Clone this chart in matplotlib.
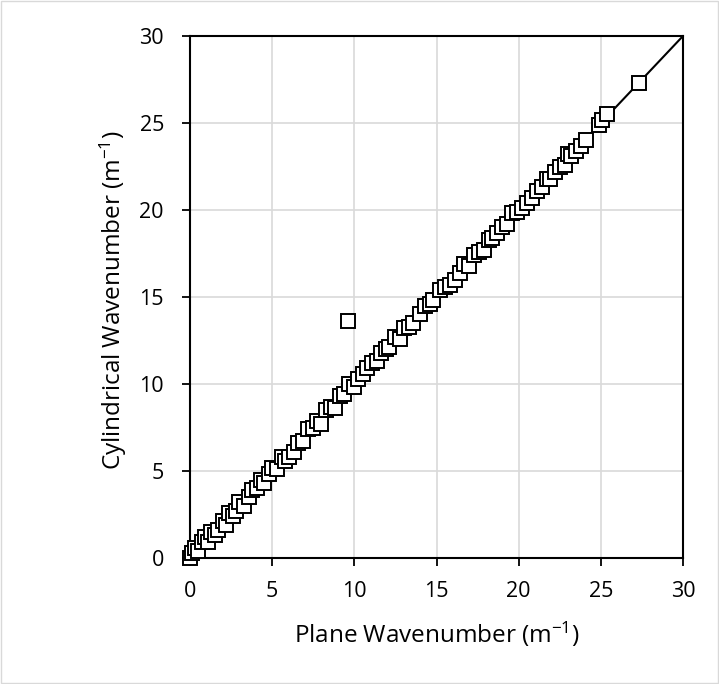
import matplotlib
matplotlib.use("Agg")
import matplotlib.pyplot as plt
from matplotlib.patches import Rectangle

plt.rcParams['font.family'] = ['Open Sans', 'DejaVu Sans']
plt.rcParams['mathtext.default'] = 'regular'

# plane vs cylindrical wavenumber (m^-1)
plane = [0.0, 0.1, 0.3, 0.5, 0.7, 0.9, 1.1, 1.3, 1.5, 1.7, 2.0, 2.2, 2.4, 2.6,
         2.8, 3.0, 3.3, 3.6, 3.8, 4.1, 4.3, 4.5, 4.8, 5.0, 5.3, 5.6, 5.8, 6.0,
         6.3, 6.6, 6.9, 7.2, 7.5, 7.7, 8.0, 8.3, 8.6, 8.8, 9.1, 9.4, 9.7, 10.0,
         10.2, 10.5, 10.8, 11.1, 11.4, 11.6, 11.9, 12.1, 12.5, 12.8, 13.0, 13.3,
         13.6, 14.0, 14.3, 14.6, 14.8, 15.2, 15.5, 15.8, 16.1, 16.4, 16.7, 17.0,
         17.3, 17.6, 17.9, 18.2, 18.4, 18.7, 19.0, 19.3, 19.6, 19.9, 20.2, 20.5,
         20.8, 21.1, 21.4, 21.7, 21.9, 22.2, 22.5, 22.8, 23.0, 23.2, 23.5, 23.8,
         24.1, 24.9, 25.1, 25.4, 27.3, 9.6]
cylindrical = [0.0, 0.3, 0.6, 0.4, 0.9, 1.2, 0.9, 1.5, 1.3, 1.6, 2.1, 1.9, 2.6, 2.4,
               2.7, 3.2, 3.0, 3.5, 3.9, 4.0, 4.5, 4.3, 4.8, 5.2, 5.1, 5.8, 5.6, 5.8,
               6.1, 6.6, 6.7, 7.4, 7.5, 7.9, 7.7, 8.5, 8.7, 8.6, 9.3, 9.4, 10.0, 9.8,
               10.3, 10.6, 10.9, 11.2, 11.3, 11.8, 12.0, 12.1, 12.7, 12.6, 13.2, 13.3,
               13.5, 14.0, 14.5, 14.6, 14.8, 15.4, 15.6, 15.7, 16.0, 16.4, 16.9, 16.8,
               17.4, 17.6, 17.7, 18.3, 18.4, 18.7, 19.0, 19.2, 19.8, 19.9, 20.1, 20.4,
               20.7, 21.1, 21.3, 21.8, 21.8, 22.2, 22.5, 22.6, 23.2, 23.1, 23.4, 23.7,
               24.0, 24.9, 25.2, 25.5, 27.3, 13.6]
ref_line = [0, 30]

fig = plt.figure(figsize=(7.19, 6.84), dpi=100)
ax = fig.add_axes([190 / 719, 1 - 558 / 684, 493 / 719, 522 / 684])

ax.plot(ref_line, ref_line, color='black', lw=1.5, zorder=2)
ax.plot(plane, cylindrical, ls='none', marker='s', ms=10, mfc='white',
        mec='black', mew=1.4, zorder=3, clip_on=False)

ax.set_xlim(0, 30)
ax.set_ylim(0, 30)
ax.set_xticks(range(0, 31, 5))
ax.set_yticks(range(0, 31, 5))
ax.grid(True, color='#d9d9d9', lw=1.2)
ax.set_axisbelow(True)
for s in ax.spines.values():
    s.set_color('black')
    s.set_linewidth(1.5)
ax.tick_params(direction='out', length=5.8, width=1.3, labelsize=15.5)
ax.tick_params(axis='x', pad=11)
ax.tick_params(axis='y', pad=13)

ax.set_xlabel('Plane Wavenumber (m$^{-1}$)', fontsize=17.5, va='center')
ax.set_ylabel('Cylindrical Wavenumber (m$^{-1}$)', fontsize=17.5, va='center')
ax.xaxis.set_label_coords(0.5, -0.146)
ax.yaxis.set_label_coords(-0.156, 0.494)

fig.patches.append(Rectangle((0.002, 0.002), 0.996, 0.996, transform=fig.transFigure,
                             fill=False, edgecolor='#d9d9d9', lw=1))

fig.savefig('out.png', dpi=100)
